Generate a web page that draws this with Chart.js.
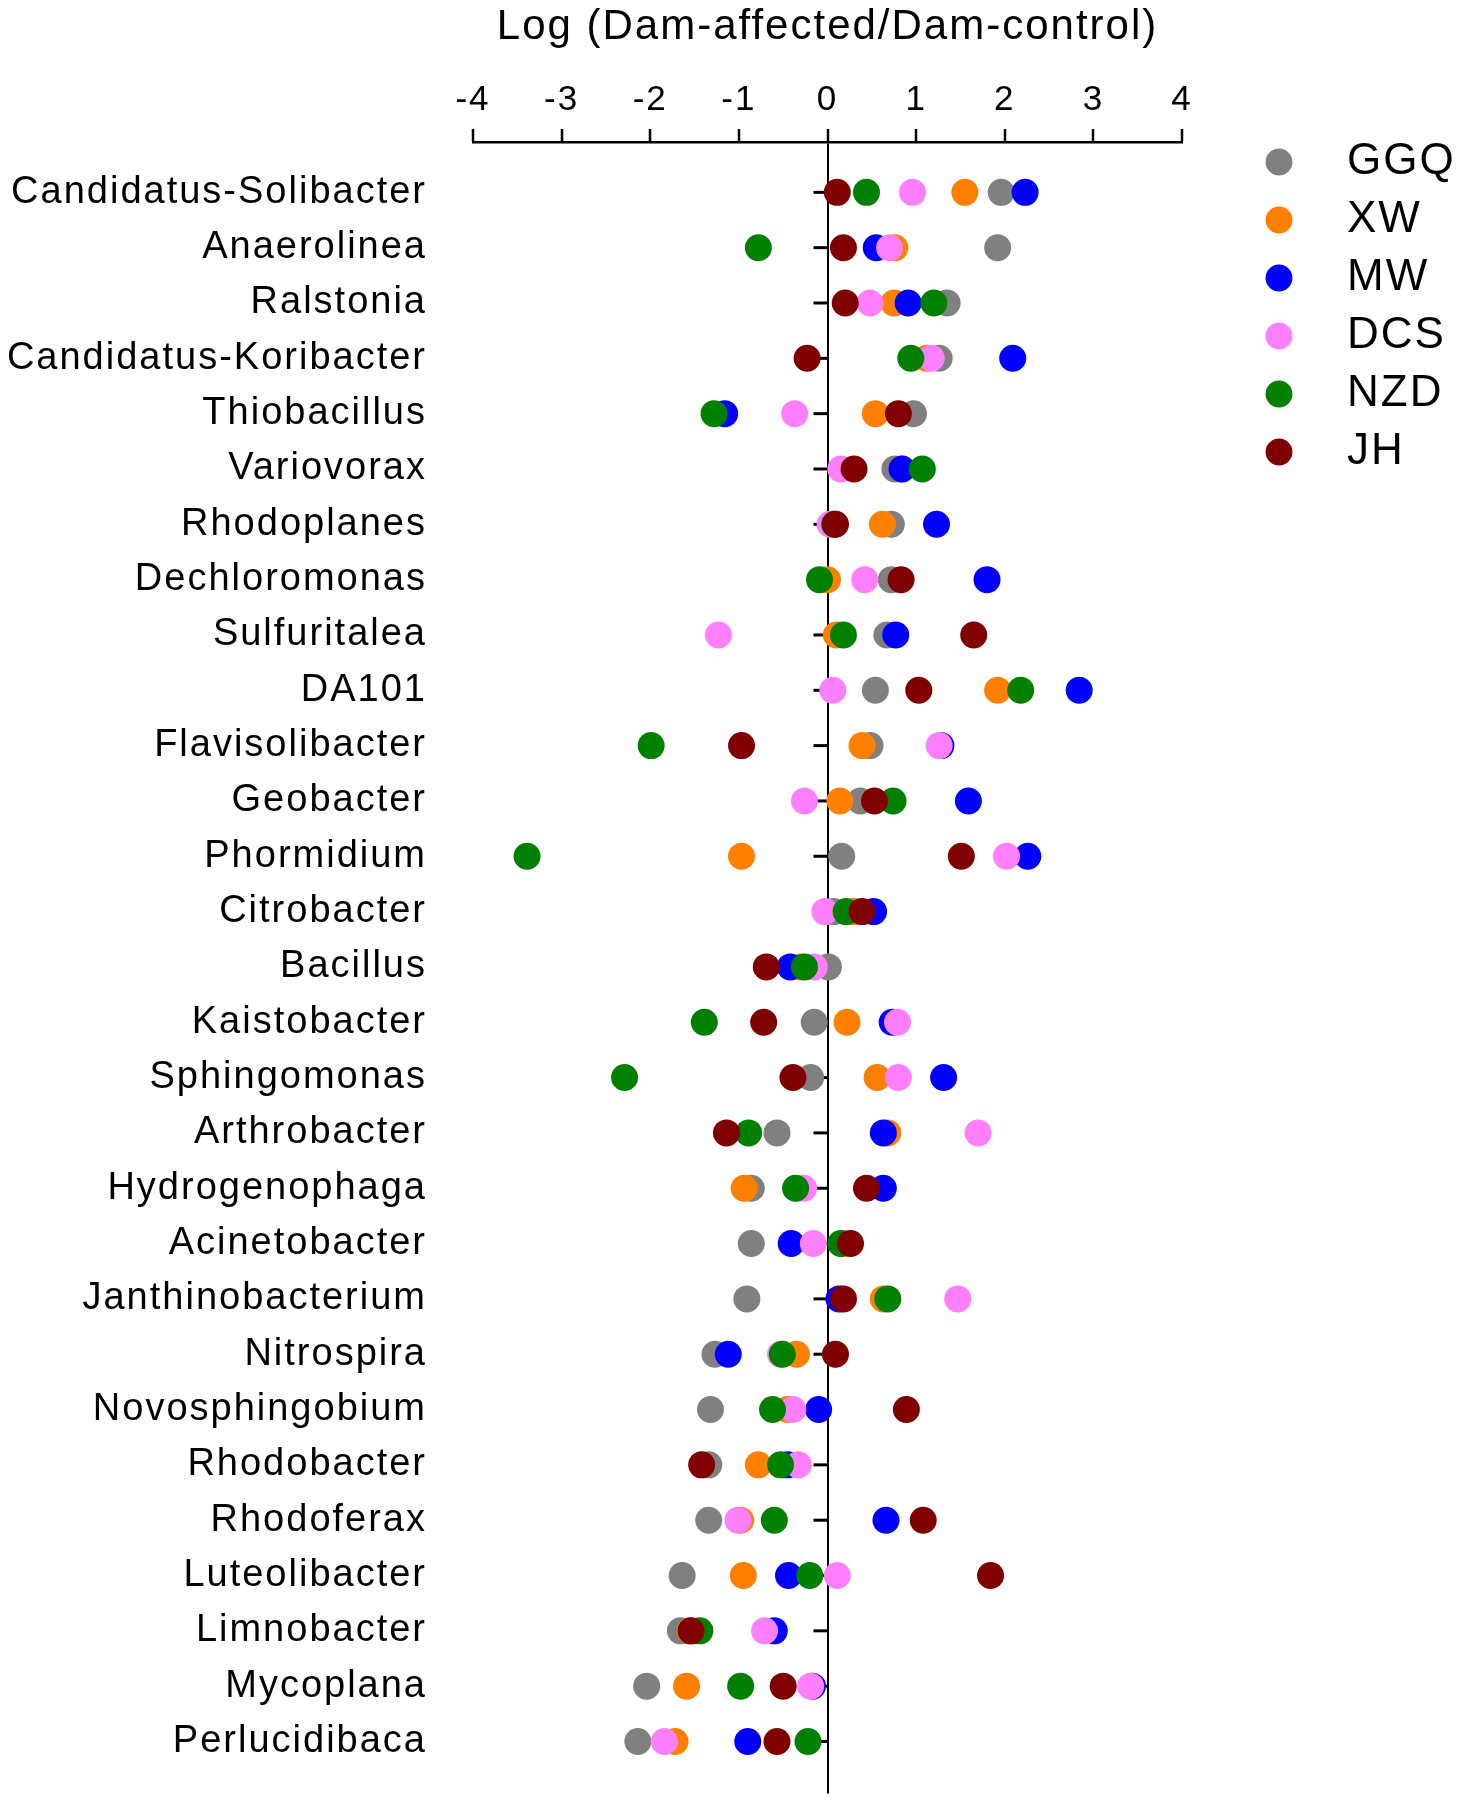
<!DOCTYPE html>
<html>
<head>
<meta charset="utf-8">
<title>Log (Dam-affected/Dam-control)</title>
<script src="https://cdn.jsdelivr.net/npm/chart.js@4.4.1/dist/chart.umd.min.js"></script>
<style>
  html, body { margin: 0; padding: 0; background: #fff; }
  #wrap { width: 1463px; height: 1807px; position: relative; }
</style>
</head>
<body>
<div id="wrap"><canvas id="taxaChart"></canvas></div>
<script>
const taxa = [
  'Candidatus-Solibacter', 'Anaerolinea', 'Ralstonia', 'Candidatus-Koribacter', 'Thiobacillus',
  'Variovorax', 'Rhodoplanes', 'Dechloromonas', 'Sulfuritalea', 'DA101',
  'Flavisolibacter', 'Geobacter', 'Phormidium', 'Citrobacter', 'Bacillus',
  'Kaistobacter', 'Sphingomonas', 'Arthrobacter', 'Hydrogenophaga', 'Acinetobacter',
  'Janthinobacterium', 'Nitrospira', 'Novosphingobium', 'Rhodobacter', 'Rhodoferax',
  'Luteolibacter', 'Limnobacter', 'Mycoplana', 'Perlucidibaca'
];

const sites = ['GGQ', 'XW', 'MW', 'DCS', 'NZD', 'JH'];

// log ratio per taxon, same order as taxa
const ggq = [1.96, 1.92, 1.35, 1.26, 0.97, 0.76, 0.72, 0.72, 0.67, 0.54, 0.48, 0.37, 0.16, 0.07, 0.01,
  -0.15, -0.19, -0.57, -0.86, -0.86, -0.91, -1.27, -1.32, -1.34, -1.34, -1.64, -1.66, -2.04, -2.14];
const xw = [1.55, 0.76, 0.75, 1.12, 0.54, 0.84, 0.62, 0.00, 0.10, 1.92, 0.39, 0.14, -0.97, 0.30, -0.30,
  0.22, 0.56, 0.68, -0.94, 0.18, 0.63, -0.35, -0.45, -0.78, -0.98, -0.95, -1.55, -1.59, -1.72];
const mw = [2.23, 0.55, 0.91, 2.09, -1.16, 0.84, 1.23, 1.80, 0.77, 2.84, 1.28, 1.59, 2.26, 0.52, -0.42,
  0.73, 1.31, 0.63, 0.63, -0.41, 0.13, -1.12, -0.10, -0.45, 0.66, -0.44, -0.60, -0.17, -0.90];
const dcs = [0.96, 0.70, 0.48, 1.17, -0.37, 0.15, 0.03, 0.42, -1.23, 0.06, 1.26, -0.26, 2.02, -0.03, -0.15,
  0.79, 0.80, 1.70, -0.27, -0.16, 1.47, -0.53, -0.39, -0.33, -1.01, 0.11, -0.71, -0.19, -1.84];
const nzd = [0.44, -0.78, 1.20, 0.94, -1.28, 1.07, 0.08, -0.09, 0.18, 2.18, -1.99, 0.74, -3.39, 0.21, -0.26,
  -1.39, -2.29, -0.89, -0.36, 0.15, 0.68, -0.51, -0.62, -0.53, -0.60, -0.20, -1.44, -0.98, -0.22];
const jh = [0.11, 0.18, 0.20, -0.23, 0.80, 0.30, 0.09, 0.83, 1.65, 1.03, -0.97, 0.53, 1.51, 0.39, -0.69,
  -0.72, -0.39, -1.14, 0.44, 0.26, 0.18, 0.09, 0.89, -1.42, 1.08, 1.84, -1.54, -0.50, -0.57];

const siteValues = [ggq, xw, mw, dcs, nzd, jh];
const siteColors = ['#808080', '#ff8000', '#0000ff', '#ff80ff', '#008000', '#800000'];

Chart.defaults.font.family = '"Liberation Sans", Arial, sans-serif';
Chart.defaults.color = '#000';

// the original text is set slightly spaced out
const letterSpacing = {
  id: 'letterSpacing',
  beforeLayout(chart) { chart.ctx.letterSpacing = '2px'; },
  beforeDraw(chart) { chart.ctx.letterSpacing = '2px'; }
};

// little ticks on the zero line for every taxon
const zeroTicks = {
  id: 'zeroTicks',
  beforeDatasetsDraw(chart) {
    const { ctx, scales: { x, y } } = chart;
    const x0 = x.getPixelForValue(0);
    ctx.save();
    ctx.strokeStyle = '#000';
    ctx.lineWidth = 3;
    y.ticks.forEach(t => {
      const py = y.getPixelForValue(t.value);
      ctx.beginPath();
      ctx.moveTo(x0 - 14, py);
      ctx.lineTo(x0, py);
      ctx.stroke();
    });
    ctx.restore();
  }
};

// push the legend a bit to the right and up, like in the figure
const legendSpot = {
  id: 'legendSpot',
  afterLayout(chart) {
    const lg = chart.legend;
    const h = lg.height;
    lg.left = chart.chartArea.right + 61;
    lg.right = chart.width;
    lg.width = lg.right - lg.left;
    lg.top = chart.chartArea.top - 16;
    lg.bottom = lg.top + h;
  }
};

const datasets = sites.map((name, s) => ({
  label: name,
  data: siteValues[s].map((v, i) => ({ x: v, y: i + 1 })),
  backgroundColor: siteColors[s],
  borderWidth: 0,
  pointStyle: 'circle',
  pointRadius: 13.5,
  pointHoverRadius: 13.5,
  order: sites.length - 1 - s // later sites drawn on top
}));

const ctx = document.getElementById('taxaChart').getContext('2d');
new Chart(ctx, {
  type: 'scatter',
  data: { datasets },
  plugins: [letterSpacing, zeroTicks, legendSpot],
  options: {
    responsive: true,
    maintainAspectRatio: false,
    animation: false,
    events: [],
    layout: { padding: { left: 0, top: 0, right: 101, bottom: 10 } },
    scales: {
      x: {
        type: 'linear',
        position: 'top',
        min: -4,
        max: 4,
        ticks: { stepSize: 1, color: '#000', font: { size: 35 }, padding: 8 },
        grid: {
          color: c => (c.tick && c.tick.value === 0 ? '#000' : 'rgba(0,0,0,0)'),
          lineWidth: 2,
          tickColor: '#000',
          tickLength: 13,
          tickWidth: 2.5
        },
        border: { display: true, color: '#000', width: 2.5 },
        title: {
          display: true,
          text: 'Log (Dam-affected/Dam-control)',
          color: '#000',
          font: { size: 42 },
          padding: { top: 2, bottom: 0 }
        },
        afterFit(scale) { scale.height = 142; }
      },
      y: {
        type: 'linear',
        reverse: true,
        min: 0.09,
        max: 29.94,
        grid: { display: false, tickLength: 46 },
        border: { display: false },
        afterBuildTicks(scale) {
          scale.ticks = taxa.map((_, i) => ({ value: i + 1 }));
        },
        ticks: {
          autoSkip: false,
          color: '#000',
          font: { size: 38, lineHeight: 0.5 },
          padding: 0,
          callback: value => taxa[value - 1]
        },
        afterFit(scale) { scale.width = 473; }
      }
    },
    plugins: {
      tooltip: { enabled: false },
      legend: {
        position: 'right',
        align: 'start',
        maxWidth: 180,
        labels: {
          usePointStyle: true,
          boxWidth: 44,
          boxHeight: 19,
          padding: 14,
          color: '#000',
          font: { size: 44 },
          sort: (a, b) => a.datasetIndex - b.datasetIndex,
          generateLabels(chart) {
            return Chart.defaults.plugins.legend.labels.generateLabels(chart)
              .map(item => ({ ...item, text: '\u2002' + item.text }));
          }
        }
      }
    }
  }
});
</script>
</body>
</html>
